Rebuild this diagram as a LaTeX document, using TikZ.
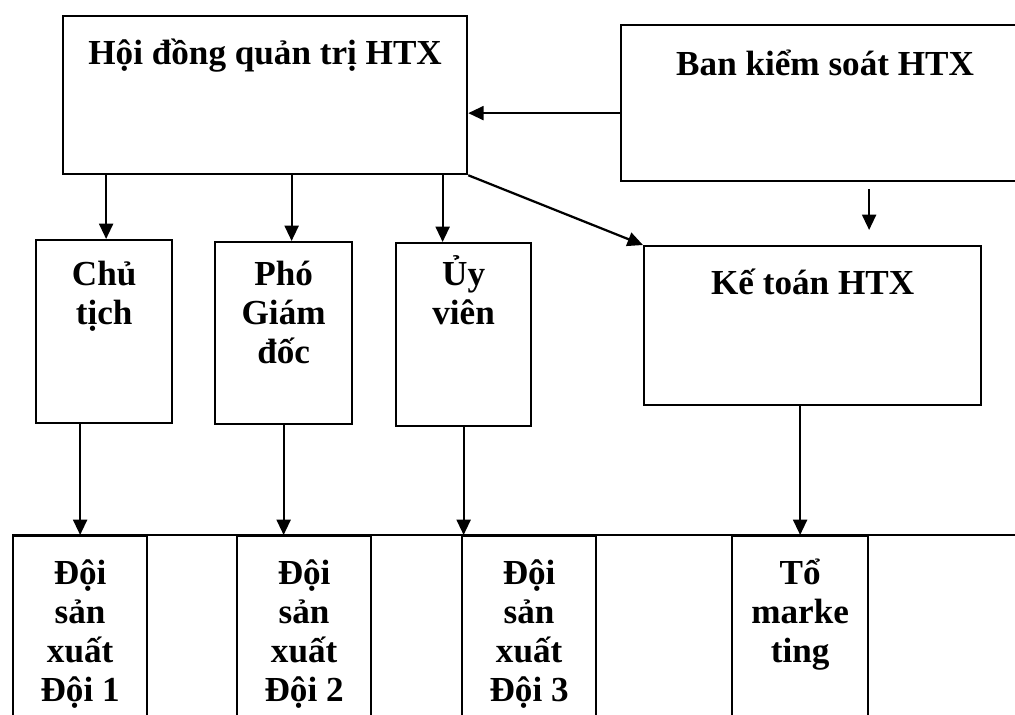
\documentclass[tikz,border=0pt]{standalone}
\usepackage{fontspec}
\setmainfont{Liberation Serif}
\usetikzlibrary{arrows.meta}

\begin{document}
\begin{tikzpicture}[
line width=1.6pt,
box/.style={rectangle, draw, anchor=north west, inner sep=0pt, align=center, font=\bfseries\fontsize{25}{27.7}\selectfont},
arrow/.style={-{Triangle[length=11pt, width=10pt]}}
]
\path[use as bounding box, clip] (0,0) rectangle (25.375,-17.875);

% upper level
\node[box, minimum width=10.1cm, text height=1.2cm, text depth=2.75cm] (hdqt) at (1.55,-0.375) {Hội đồng quản trị HTX};
\node[box, minimum width=10.2cm, text height=1.25cm, text depth=2.65cm] (ban) at (15.5,-0.6) {Ban kiểm soát HTX};

% middle level
\node[box, minimum width=3.4cm, text height=2.1cm, text depth=2.475cm] (chu) at (0.875,-5.975) {Chủ\\tịch};
\node[box, minimum width=3.425cm, text height=3.025cm, text depth=1.525cm] (pho) at (5.35,-6.025) {Phó\\Giám\\đốc};
\node[box, minimum width=3.375cm, text height=2.025cm, text depth=2.55cm] (uyvien) at (9.875,-6.05) {Ủy\\viên};
\node[box, minimum width=8.425cm, text height=1.2cm, text depth=2.775cm] (ketoan) at (16.075,-6.125) {Kế toán HTX};

% bottom row
\node[box, minimum width=3.35cm, text height=4.125cm, text depth=0.875cm] (doi1) at (0.3,-13.375) {Đội\\sản\\xuất\\Đội 1};
\node[box, minimum width=3.35cm, text height=4.125cm, text depth=0.875cm] (doi2) at (5.9,-13.375) {Đội\\sản\\xuất\\Đội 2};
\node[box, minimum width=3.35cm, text height=4.125cm, text depth=0.875cm] (doi3) at (11.525,-13.375) {Đội\\sản\\xuất\\Đội 3};
\node[box, minimum width=3.4cm, text height=3.15cm, text depth=1.85cm] (mkt) at (18.275,-13.375) {Tổ\\marke\\ting};
\coordinate (rowend) at (26,-13.375);

\draw (doi1.north west) -- (rowend);

% connectors
\coordinate (banin) at ([yshift=-0.25cm]ban.west);
\draw[arrow] (banin) -- (banin -| hdqt.east);
\foreach \n/\s in {chu/0.05, pho/0.2, uyvien/-0.525} {
  \coordinate (\n in) at ([xshift=\s cm]\n.north);
  \draw[arrow] (\n in |- hdqt.south) -- (\n in);
}
\draw[arrow] (hdqt.south east) -- (ketoan.north west);
\coordinate (bk) at ([xshift=1.1cm, yshift=-0.175cm]ban.south);
\coordinate (kt) at (bk |- ketoan.north);
\draw[arrow] (bk) -- ([yshift=0.375cm]kt);

\draw[arrow] (doi1.north |- chu.south) -- (doi1.north);
\draw[arrow] (pho.south) -- (pho.south |- doi2.north);
\draw[arrow] (uyvien.south) -- (uyvien.south |- doi3.north);
\draw[arrow] (mkt.north |- ketoan.south) -- (mkt.north);

\end{tikzpicture}
\end{document}
